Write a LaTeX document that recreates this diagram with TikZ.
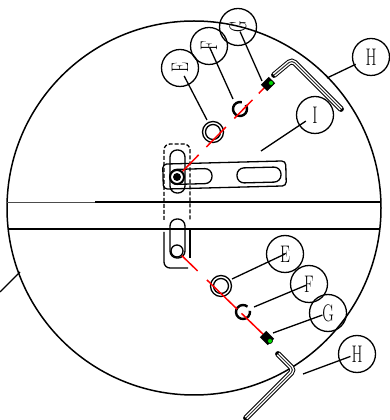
\documentclass[tikz,border=0pt]{standalone}
\newcommand{\calltext}[1]{\scalebox{.66}[1]{\fontsize{24}{24}\selectfont #1}}
\begin{document}
\begin{tikzpicture}[x=1pt,y=1pt,line width=1.3pt,
      call node/.style={circle,draw,minimum size=37pt,inner sep=0pt},
      slot node/.style={draw,rounded corners=7pt,inner sep=0pt,minimum width=#1},
      hole node/.style={circle,draw,inner sep=0pt,minimum size=#1},
      screw node/.style={fill=black,rotate=45,inner sep=0pt,minimum width=11pt,minimum height=9pt},
      green node/.style={circle,fill=green!85!black,draw=black,line width=.6pt,inner sep=0pt,minimum size=5pt},
      hexkey/.style={line width=5.8pt,line cap=round,rounded corners=4pt,
        postaction={draw,white,line width=3.8pt,line cap=butt},
        postaction={draw,black!80,line width=1pt,line cap=butt}},
      centre/.style={red,line width=1.5pt}]
 \useasboundingbox (0,0) rectangle (390,420);

 % body
 \node[circle,draw,line width=1.5pt,inner sep=0pt,minimum size=374pt] (body) at (194,212) {};
 \coordinate (r1) at (7,218);
 \coordinate (r2) at (95,218);
 \coordinate (r3) at (381,218);
 \coordinate (r4) at (8,191);
 \coordinate (r5) at (380,191);
 \draw[line width=.9pt,black!70] (r1) -- (r2);
 \draw[line width=1.6pt] (r2) -- (r3);
 \draw[line width=1.4pt] (r4) -- (r5);
 \coordinate (b1) at (0,128);
 \coordinate (b2) at (20,148);
 \draw (b1) -- (b2);

 % guide outline
 \draw[dash pattern=on 4pt off 2pt,rounded corners=6pt] (164,200) -- (164,276) -- (190,276) -- (190,200);
 \draw[rounded corners=6pt] (164,188) -- (164,152) -- (188,152);
 \draw (190,162) -- (190,191);

 % slots
 \node[slot node=15pt,minimum height=43pt] (vs1) at (177.5,248.5) {};
 \node[slot node=15pt,minimum height=39pt] (vs2) at (177.5,181.5) {};
 \node[draw,rounded corners=4pt,rotate=1.5,inner sep=0pt,minimum width=123pt,minimum height=25pt] (plate) at (224.5,245) {};
 \node[slot node=42pt,rotate=1.5,minimum height=15pt] (hs1) at (191,243.5) {};
 \node[slot node=44pt,rotate=1.5,minimum height=15pt] (hs2) at (259,245) {};
 \node[hole node=14pt,line width=2pt,fill=white] (h1) at (177,243) {};
 \node[circle,fill=black,inner sep=0pt,minimum size=8pt] (h1c) at (177,243) {};
 \node[hole node=12pt] (h2) at (177,169) {};

 % washers and rings
 \node[hole node=21pt] (w1) at (213,288) {};
 \node[hole node=15pt] (w1i) at (213,288) {};
 \node[hole node=21pt] (w2) at (221,134) {};
 \node[hole node=15pt] (w2i) at (221,134) {};
 \coordinate (c1) at (240,311);
 \coordinate (c2) at (243,108);
 \draw[line width=2.4pt] (c1) ++(75:7pt) arc (75:395:7pt);
 \draw[line width=2.4pt] (c2) ++(50:7pt) arc (50:370:7pt);

 % screws
 \coordinate (s1) at (268,336);
 \coordinate (s2) at (267,82);
 \draw[centre,dash pattern=on 23pt off 11pt on 28pt off 12pt on 26pt off 9pt on 14pt off 30pt] (h1) -- (s1);
 \draw[centre,dash pattern=on 22pt off 13pt on 42pt off 6pt on 37pt off 30pt] (h2) -- (s2);
 \node[screw node] (sc1) at (s1) {};
 \node[screw node,rotate=-90] (sc2) at (s2) {};
 \node[green node] (g1) at (271,337) {};
 \node[green node] (g2) at (270,79) {};

 % hex keys
 \coordinate (k1) at (274,345);
 \coordinate (k2) at (292,360);
 \coordinate (k3) at (341,311);
 \coordinate (k4) at (278,66);
 \coordinate (k5) at (294,50);
 \coordinate (k6) at (246,2);
 \draw[hexkey] (k1) -- (k2) -- (k3);
 \draw[hexkey] (k4) -- (k5) -- (k6);

 % callouts
 \node[call node,rotate=90] (E1) at (180,352) {\calltext{E}};
 \node[call node,rotate=90] (F1) at (209,374) {\calltext{F}};
 \node[call node,rotate=90] (G1) at (238,393) {\calltext{G}};
 \node[call node] (H1) at (371,363) {\calltext{H}};
 \node[call node] (I1) at (315,305) {\calltext{I}};
 \node[call node] (E2) at (285,166) {\calltext{E}};
 \node[call node] (F2) at (309,136) {\calltext{F}};
 \node[call node] (G2) at (328,107) {\calltext{G}};
 \node[call node] (H2) at (357,66) {\calltext{H}};
 \coordinate (e1) at (207,300);
 \coordinate (f1) at (233,321);
 \coordinate (g1e) at (262,339);
 \coordinate (h1e) at (327,342);
 \coordinate (i1e) at (261,269);
 \coordinate (e2) at (232,141);
 \coordinate (f2) at (254,113);
 \coordinate (g2e) at (273,87);
 \coordinate (h2e) at (303,46);
 \draw[shorten <=9pt] (E1.center) -- (e1);
 \draw[shorten <=2pt] (F1.center) -- (f1);
 \draw[shorten <=5pt] (G1.center) -- (g1e);
 \draw[shorten <=17pt] (H1.center) -- (h1e);
 \draw[shorten <=11pt] (I1.center) -- (i1e);
 \draw (E2.center) -- (e2);
 \draw[shorten <=3pt] (F2.center) -- (f2);
 \draw[shorten <=6pt] (G2.center) -- (g2e);
 \draw[shorten <=7pt] (H2.center) -- (h2e);
\end{tikzpicture}
\end{document}
